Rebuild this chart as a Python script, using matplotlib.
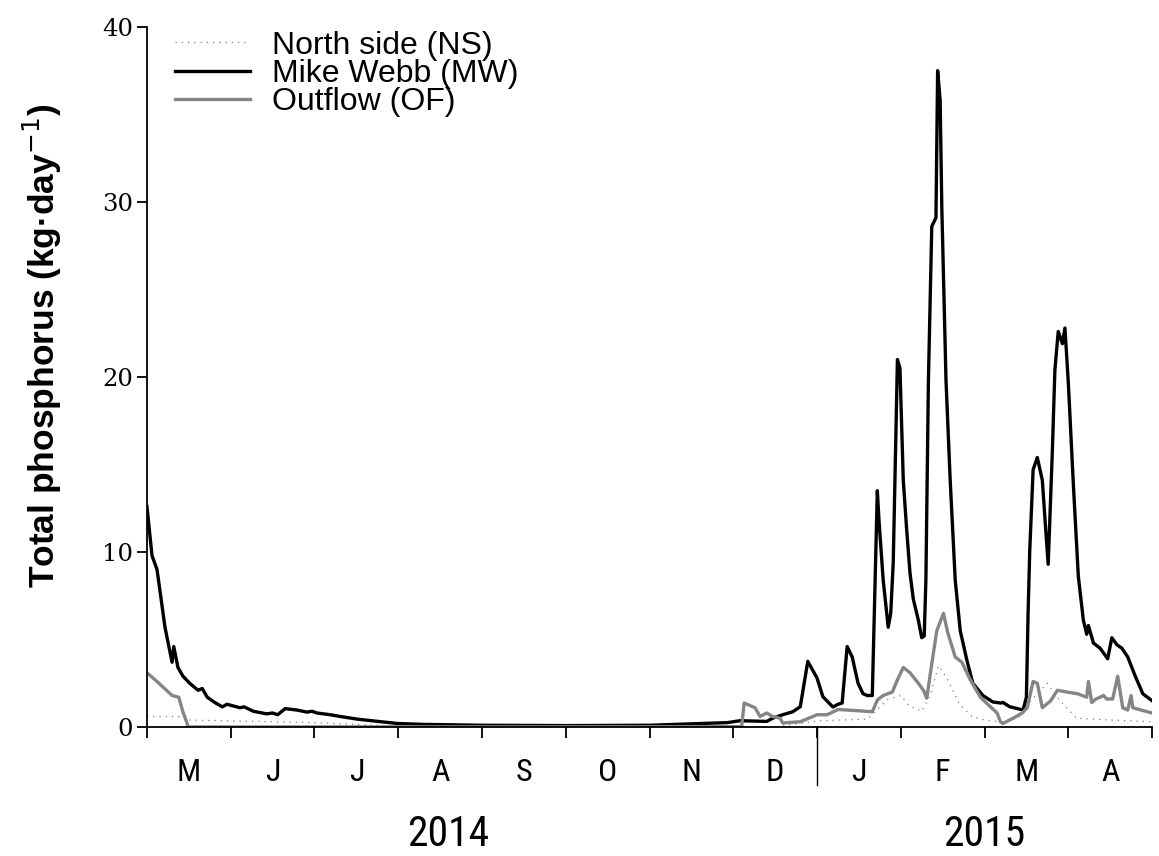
import matplotlib.pyplot as plt
from matplotlib import font_manager
from matplotlib.transforms import blended_transform_factory

# x positions are in months since 1 May 2014 (one unit = one month)
month_labels = ['M', 'J', 'J', 'A', 'S', 'O', 'N', 'D', 'J', 'F', 'M', 'A']
years = ['2014', '2015']
year_pos = [3.6, 10.0]

mw_t = [0.00, 0.06, 0.12, 0.155, 0.215, 0.30, 0.32, 0.37, 0.43, 0.51, 0.61, 0.66,
        0.72, 0.81, 0.90, 0.955, 1.11, 1.16, 1.27, 1.43, 1.50, 1.56, 1.65, 1.79,
        1.91, 1.97, 2.03, 2.19, 2.31, 2.51, 2.70, 2.99, 3.30, 4.0, 5.0, 6.0, 6.5,
        6.93, 7.08, 7.40, 7.47, 7.59, 7.71, 7.80, 7.89, 8.00, 8.07, 8.19, 8.25,
        8.30, 8.36, 8.42, 8.49, 8.55, 8.60, 8.66, 8.72, 8.74, 8.79, 8.85, 8.88,
        8.91, 8.96, 8.99, 9.03, 9.07, 9.11, 9.15, 9.21, 9.25, 9.28, 9.30, 9.33,
        9.37, 9.42, 9.44, 9.47, 9.49, 9.54, 9.59, 9.65, 9.71, 9.79, 9.86, 9.98,
        10.10, 10.19, 10.22, 10.30, 10.46, 10.50, 10.52, 10.54, 10.58, 10.63,
        10.69, 10.72, 10.76, 10.81, 10.84, 10.88, 10.93, 10.96, 11.00, 11.06,
        11.12, 11.18, 11.22, 11.24, 11.30, 11.38, 11.47, 11.52, 11.58, 11.64,
        11.71, 11.80, 11.89, 12.00]
mw_v = [12.6, 9.8, 9.0, 7.8, 5.7, 3.7, 4.6, 3.4, 2.9, 2.5, 2.1, 2.2,
        1.7, 1.4, 1.15, 1.3, 1.1, 1.15, 0.9, 0.75, 0.8, 0.7, 1.05, 0.97,
        0.85, 0.9, 0.8, 0.7, 0.6, 0.45, 0.35, 0.2, 0.15, 0.1, 0.08, 0.1, 0.18,
        0.25, 0.36, 0.32, 0.5, 0.7, 0.87, 1.16, 3.75, 2.8, 1.73, 1.14, 1.3,
        1.37, 4.6, 4.0, 2.5, 1.9, 1.8, 1.8, 13.5, 11.8, 8.4, 5.7, 6.5,
        9.4, 21.0, 20.5, 14.1, 11.3, 8.8, 7.3, 6.1, 5.1, 5.2, 8.4, 19.8,
        28.6, 29.1, 37.5, 35.8, 29.7, 19.8, 14.1, 8.4, 5.5, 3.8, 2.5, 1.8,
        1.43, 1.37, 1.4, 1.16, 0.97, 1.7, 6.5, 10.1, 14.7, 15.4,
        14.1, 12.0, 9.3, 15.8, 20.4, 22.6, 21.9, 22.8, 19.7, 13.9,
        8.6, 6.1, 5.3, 5.8, 4.8, 4.5, 3.9, 5.1, 4.7, 4.5,
        4.0, 2.9, 1.9, 1.5]

of_t = [0.00, 0.12, 0.30, 0.38, 0.43, 0.48, 0.49, 7.10, 7.13, 7.26, 7.32, 7.40,
        7.47, 7.56, 7.59, 7.80, 8.00, 8.12, 8.25, 8.43, 8.66, 8.72, 8.79, 8.90,
        8.96, 9.03, 9.11, 9.21, 9.27, 9.31, 9.37, 9.43, 9.51, 9.56, 9.65, 9.73,
        9.83, 9.95, 10.07, 10.15, 10.19, 10.22, 10.34, 10.45, 10.51, 10.58, 10.63,
        10.69, 10.79, 10.87, 10.98, 11.11, 11.22, 11.24, 11.28, 11.33, 11.38,
        11.42, 11.46, 11.53, 11.59, 11.65, 11.71, 11.75, 11.77, 12.00]
of_v = [3.1, 2.6, 1.8, 1.7, 0.85, 0.2, 0.0, 0.02, 1.37, 1.1, 0.6, 0.8,
        0.6, 0.5, 0.23, 0.3, 0.7, 0.7, 1.0, 0.95, 0.87, 1.54, 1.8, 2.0,
        2.7, 3.4, 3.1, 2.5, 2.1, 1.65, 3.6, 5.5, 6.5, 5.4, 4.0, 3.7,
        2.7, 1.7, 1.16, 0.8, 0.3, 0.2, 0.5, 0.8, 1.1, 2.6, 2.5,
        1.1, 1.5, 2.1, 2.0, 1.9, 1.7, 2.6, 1.4, 1.6, 1.7,
        1.8, 1.6, 1.6, 2.9, 1.1, 0.97, 1.8, 1.1, 0.8]

ns_t = [0.0, 0.45, 0.5, 1.0, 1.5, 2.0, 2.5, 3.0, 3.2, 7.5, 7.8, 8.0, 8.3, 8.6,
        8.7, 8.85, 9.0, 9.1, 9.25, 9.35, 9.45, 9.55, 9.7, 9.85, 10.0, 10.2,
        10.4, 10.55, 10.75, 10.9, 11.1, 11.5, 12.0]
ns_v = [0.6, 0.6, 0.4, 0.35, 0.3, 0.25, 0.15, 0.05, 0.0, 0.0, 0.2, 0.35, 0.4, 0.45,
        0.9, 1.6, 1.8, 1.2, 0.9, 1.8, 3.5, 2.8, 1.3, 0.6, 0.4, 0.3,
        0.5, 1.5, 2.5, 1.5, 0.5, 0.4, 0.3]

# pick a narrow sans for the month / year labels if one is installed
installed = {(f.name, f.stretch) for f in font_manager.fontManager.ttflist}
narrow = {'family': 'Liberation Sans', 'stretch': 'normal'}
for name in ['Liberation Sans Narrow', 'Roboto Condensed', 'Open Sans Condensed',
             'Noto Sans Condensed', 'DejaVu Sans Condensed']:
    if any(n == name for n, s in installed):
        narrow = {'family': name, 'stretch': 'normal'}
        break
else:
    for name in ['Noto Sans', 'Open Sans', 'DejaVu Sans', 'Roboto']:
        if any(n == name and s in ('condensed', 'semi-condensed', 'extra-condensed', 75, 87)
               for n, s in installed):
            narrow = {'family': name, 'stretch': 'condensed'}
            break

fig = plt.figure(figsize=(11.59, 8.56), dpi=100)
ax = fig.add_axes([0.1268, 0.1507, 0.8672, 0.8178])

ax.plot(ns_t, ns_v, color='#7f7f7f', lw=0.9, linestyle=(0, (1, 4)), label='North side (NS)')
ax.plot(mw_t, mw_v, color='black', lw=2.4, label='Mike Webb (MW)')
ax.plot(of_t, of_v, color='#858585', lw=2.4, label='Outflow (OF)')

ax.set_xlim(0, 12)
ax.set_ylim(0, 40)
ax.set_yticks([0, 10, 20, 30, 40])
ax.set_yticklabels(['0', '10', '20', '30', '40'], family='DejaVu Serif', fontsize=17.5)
ax.tick_params(axis='y', direction='out', length=7, width=1.3, pad=3)

# month boundaries as ticks, labels go in between
ax.set_xticks(range(13))
ax.set_xticklabels([])
ax.tick_params(axis='x', direction='out', length=8, width=1.3)
ax.set_xticks([m + 0.5 for m in range(12)], minor=True)
ax.set_xticklabels(month_labels, minor=True, family=narrow['family'],
                   fontstretch=narrow['stretch'], fontsize=23)
ax.tick_params(axis='x', which='minor', length=0, pad=22)

for side in ['top', 'right']:
    ax.spines[side].set_visible(False)
ax.spines['left'].set_linewidth(1.3)
ax.spines['bottom'].set_linewidth(1.3)

# longer tick splitting the two years
trans = blended_transform_factory(ax.transData, ax.transAxes)
ax.plot([8, 8], [0, -0.083], color='black', lw=1.0, transform=trans, clip_on=False)

for yr, xp in zip(years, year_pos):
    ax.text(xp, -0.153, yr, transform=trans, ha='center', va='center',
            family=narrow['family'], fontstretch=narrow['stretch'], fontsize=30)

ax.set_ylabel('Total phosphorus (kg·day$^{-1}$)', family='Liberation Sans',
              fontweight='bold', fontsize=25.5)
ax.yaxis.set_label_coords(-0.083, 0.545)

ax.legend(loc='upper left', bbox_to_anchor=(0.015, 1.013), frameon=False,
          prop={'family': 'Liberation Sans', 'size': 23}, handlelength=2.35,
          handletextpad=0.68, labelspacing=-0.05, borderaxespad=0.0)

fig.savefig('out.png', dpi=100)
